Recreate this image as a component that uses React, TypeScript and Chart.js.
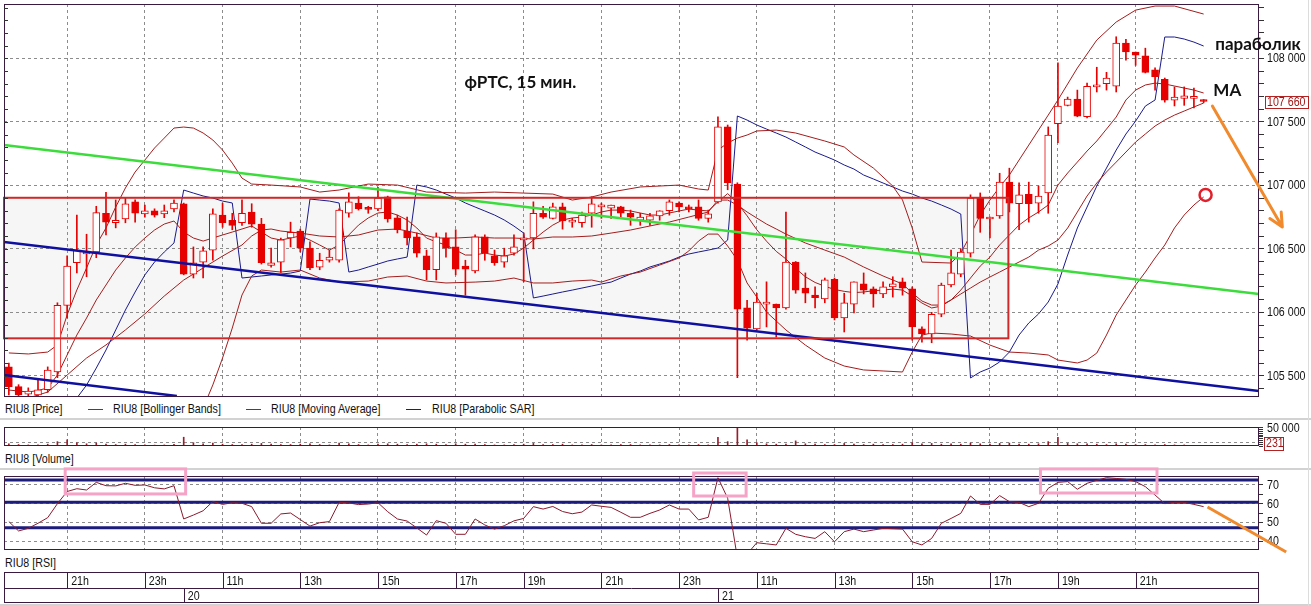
import React, { useEffect, useRef } from 'react';
import { Chart, registerables } from 'chart.js';

Chart.register(...registerables);

// ---------------- DATA ----------------
// 15-minute bars, index 0 = 19 June 19:30 ... index 123 = 21 June 22:45
const OPEN = [105570,105415,105355,105350,105390,105530,106055,106390,106460,106475,
106780,106705,106735,106870,106775,106800,106775,106815,106855,106300,
106395,106490,106765,106725,106705,106790,106695,106370,106395,106585,
106640,106505,106355,106410,106410,106780,106860,106820,106815,106910,
106745,106640,106595,106445,106335,106585,106515,106365,106325,106595,
106445,106395,106465,106570,106585,106780,106740,106830,106710,106705,
106780,106830,106820,106830,106780,106725,106725,106760,106800,106860,
106820,106830,106740,106870,107460,107010,106035,105870,106065,106065,
106035,106395,106190,106135,106105,106260,105955,106065,106225,106185,
106145,106200,106240,106185,105870,105830,105985,106215,106300,106465,
106900,106735,106760,107025,106855,106930,106860,106940,107485,107630,
107680,107540,107775,107800,107780,108120,108050,108020,107910,107835,
107670,107685,107685,107670];
const HIGH = [105600,105430,105405,105475,105570,106075,106445,106765,106615,106835,
106945,106885,106900,106885,106845,106815,106845,106885,106860,106515,
106515,106815,106860,106780,106885,106855,106740,106505,106585,106710,
106655,106555,106465,106490,106815,106940,106910,106835,106985,106915,
106765,106750,106625,106490,106625,106625,106650,106410,106610,106610,
106490,106505,106610,106625,106870,106835,106860,106860,106740,106790,
106910,106860,106845,106835,106805,106780,106780,106800,106885,106870,
106845,106885,106805,107540,107475,107020,106095,106150,106240,106065,
106790,106400,106310,106200,106270,106270,106150,106240,106310,106200,
106240,106280,106270,106200,105885,106000,106230,106490,106500,106925,
106940,106750,107095,107135,107020,107025,106995,107460,107965,107695,
107750,107805,107930,107890,108170,108150,108050,108080,107925,107845,
107775,107775,107765,107675];
const LOW = [105350,105340,105340,105340,105370,105485,105955,106310,106280,106430,
106610,106665,106705,106710,106750,106750,106745,106790,106295,106270,
106270,106410,106670,106650,106685,106670,106380,106355,106315,106515,
106475,106335,106335,106395,106395,106750,106805,106780,106800,106710,
106625,106530,106435,106255,106255,106435,106295,106135,106310,106410,
106370,106355,106450,106240,106500,106740,106735,106655,106670,106670,
106670,106740,106740,106750,106685,106685,106685,106725,106765,106790,
106790,106725,106710,106860,106965,105485,105780,105860,105885,105805,
106025,106150,106075,106035,106075,105940,105845,105995,106145,106040,
106115,106120,106135,105780,105765,105760,105965,106200,106280,106435,
106630,106585,106740,106790,106650,106710,106780,106780,107335,107625,
107540,107530,107735,107750,107735,107985,107945,107885,107750,107655,
107625,107630,107610,107650];
const CLOSE = [105415,105350,105380,105390,105545,106055,106365,106490,106475,106785,
106710,106725,106855,106780,106800,106765,106800,106860,106300,106390,
106485,106775,106705,106685,106780,106695,106390,106390,106570,106630,
106505,106350,106410,106435,106805,106870,106815,106810,106900,106735,
106650,106585,106465,106335,106595,106505,106340,106340,106595,106465,
106390,106445,106515,106585,106780,106750,106830,106720,106720,106765,
106855,106835,106845,106780,106750,106750,106760,106800,106870,106830,
106815,106740,106775,107460,107020,106025,105875,106080,106075,106035,
106395,106175,106150,106115,106255,105955,106075,106240,106175,106145,
106200,106225,106190,105885,105830,105985,106215,106310,106475,106900,
106740,106745,107025,106860,106925,106855,106915,107395,107625,107680,
107545,107780,107780,107845,108120,108050,108025,107890,107855,107670,
107695,107705,107690,107660];
const VOLUME = [6000,4000,3000,3500,5000,12000,17000,9000,6000,8000,
5000,4000,5000,4000,3000,2500,3000,4500,24000,9000,
6000,8000,5000,4000,4000,5000,7000,5000,4000,4000,
5000,6000,4000,3000,8000,6000,4000,3000,5000,6000,
5000,4000,5000,6000,5000,4000,6000,5000,5000,4000,
3000,3000,4000,5000,7000,4000,4000,5000,3000,3000,
4000,3000,3000,4000,4000,3000,3000,3000,4000,3000,
3000,4000,3000,24000,12000,50000,17000,9000,6000,5000,
5000,14000,6000,5000,4000,4000,7000,5000,4000,5000,
4000,4000,5000,9000,6000,7000,5000,6000,5000,8000,
6000,5000,7000,8000,5000,5000,6000,12000,24000,7000,
6000,6000,5000,4000,6000,5000,4000,4000,3000,4000,
3000,3000,2000,231];
const RSI = [50.4,45.4,46.8,49.5,52.5,60,66.5,68,67.3,71.4,
69.6,69.5,70.9,69.8,70,68.5,67.9,69.6,51.8,53.9,
56.2,61.2,59.6,60.5,60.2,58.4,49.5,49.5,54.5,55,
51.5,48,49.8,50.4,60.7,60.4,59.5,59.8,60.5,55.7,
51.8,50.7,47,43.2,50.9,49.5,43.6,43.6,51.8,48.6,
46.4,48.2,50.8,52.1,58.4,57.1,58.5,55.8,54.6,55.5,
59.3,58.6,58,55.4,52.7,52.7,54.8,56.6,59.3,57.1,
57.1,51.3,52.7,73.9,62.9,31,33,39.1,38.5,37.9,
46.8,43.6,42.3,41.4,45,39.6,45,46.4,45,45.9,
46.8,46.6,46.4,39.6,37.9,41.4,49.5,52.1,54.8,64.1,
59.6,59.6,64.3,61.1,60.7,58.4,60.2,68.2,71.4,71.8,
67.7,70.9,72.5,73.9,73.5,73,71.8,69.1,64.6,60,
60.7,60.7,59.6,58.4];
const MA = [105388,105380,105372,105385,105404,105506,105664,105821,105955,106097,
106215,106333,106428,106514,106585,106648,106695,106719,106632,106585,
106561,106585,106609,106632,106656,106680,106632,106585,106569,106585,
106601,106569,106530,106490,106530,106609,106687,106743,106782,106790,
106766,106727,106664,106585,106554,106530,106490,106451,106451,106467,
106451,106443,106459,106506,106569,106632,106687,106727,106743,106750,
106766,106790,106805,106805,106798,106782,106766,106766,106782,106798,
106813,106805,106798,106870,106935,106860,106760,106650,106560,106480,
106420,106345,106280,106235,106205,106180,106165,106155,106160,106170,
106175,106183,106175,106128,106073,106034,106049,106097,106175,106270,
106364,106435,106530,106609,106687,106743,106790,106845,107002,107097,
107183,107270,107349,107443,107538,107672,107750,107790,107805,107798,
107782,107766,107750,107727];
const SAR = [null,null,null,null,null,null,105152,105325,105427,105561,
105703,105861,106018,106160,106294,106396,106475,106546,106963,106939,
106916,106900,106876,106861,106270,106278,106286,106294,106301,106309,
106325,106892,106884,106876,106861,106317,106333,106357,106380,106404,
106420,106435,107002,106987,106963,106931,106900,106861,106829,106798,
106766,106727,106679,106624,106113,106128,106144,106160,106175,106191,
106207,106223,106238,106270,106301,106325,106357,106380,106404,106435,
106459,106475,106490,106506,106569,107546,107514,107475,107443,107412,
107380,107341,107302,107262,107231,107199,107160,107128,107081,107050,
107018,106987,106955,106931,106900,106876,106845,106813,106774,105483,
105530,105561,105609,105687,105821,105916,105987,106081,106223,106451,
106664,106829,106994,107136,107278,107404,107506,107624,107672,108168,
108168,108152,108128,108097];

const BB_UPPER_IDX = [0,2,4,5,6,7,8,9,10,11,12,13,14,15,16,17,18,19,20,21,22,23,24,25,27,30,32,34,37,40,43,47,50,53,56,58,60,62,65,69,71,72,73,74,75,76,77,79,81,84,86,87,89,91,92,93,94,97,98,99,100,101,102,103,105,107,108,110,112,114,116,118,120,123];
const BB_UPPER = [105680,105672,105687,105743,105979,106176,106349,106530,106664,106829,106979,107105,107199,107294,107372,107451,107459,107451,107412,107357,107278,107175,107057,107010,107002,106987,106947,106963,107010,107002,106947,106939,106947,106939,106931,106884,106908,106947,106987,107002,106971,106963,107278,107333,107372,107396,107428,107435,107412,107349,107302,107239,107136,106994,106884,106664,106396,106388,106467,106609,106766,106884,106987,107081,107317,107553,107672,107924,108144,108286,108380,108412,108412,108349];
const BB_MID_IDX = [0,2,4,6,8,10,12,14,16,18,20,22,24,25,26,27,28,30,32,34,36,38,40,42,44,46,48,50,52,54,56,58,60,62,64,66,68,70,72,73,74,75,76,77,78,79,80,82,84,86,88,90,92,93,94,95,96,97,98,99,100,101,102,103,104,105,106,107,108,109,110,111,112,113,114,115,116,117,118,119,120,121,122,123];
const BB_MID = [105325,105325,105372,105506,105640,105743,105861,105987,106128,106254,106349,106443,106530,106601,106648,106656,106640,106624,106601,106593,106609,106648,106656,106624,106585,106585,106593,106585,106585,106577,106593,106593,106601,106624,106648,106680,106711,106750,106790,106884,106884,106845,106790,106742,106695,106656,106616,106546,106490,106435,106357,106286,106223,106152,106089,106057,106057,106097,106144,106191,106238,106278,106317,106357,106396,106435,106490,106522,106569,106664,106790,106916,107018,107105,107183,107262,107341,107404,107467,107514,107553,107585,107617,107648];
const BB_LOWER_IDX = [19,20,21,22,23,24,25,26,28,30,32,34,37,39,41,43,45,48,50,52,54,56,58,60,61,63,65,67,69,70,71,72,73,74,75,76,77,78,80,82,84,86,88,90,92,93,94,95,97,99,101,103,105,107,108,110,111,112,113,114,115,116,117,118,119,120,121,122,123];
const BB_LOWER = [105073,105246,105428,105640,105876,106136,106286,106333,106317,106333,106270,106238,106246,106278,106286,106246,106231,106238,106246,106270,106231,106231,106246,106254,106238,106286,106317,106372,106428,106483,106561,106616,106616,106522,106412,106231,106120,106002,105861,105742,105640,105577,105546,105538,105530,105687,105821,105837,105829,105813,105742,105687,105679,105664,105624,105601,105624,105679,105821,105979,106097,106215,106317,106428,106530,106664,106766,106845,106908];

const HOUR_TICK_IDX = [6, 14, 22, 30, 38, 46, 53, 61, 69, 77, 85, 93, 101, 108, 116];
const HOUR_TICK_LABELS = ['21h', '23h', '11h', '13h', '15h', '17h', '19h', '21h', '23h', '11h', '13h', '15h', '17h', '19h', '21h'];
const DAY_TICK_IDX = [18, 73];
const DAY_LABELS = ['20', '21'];

const RSI_LEVELS = [72.6, 60.8, 47.1];
const RSI_TICKS = [40, 45, 50, 55, 60, 65, 70];

// hand-drawn objects (data coordinates)
const GREEN_LINE_X = [-0.5, 128.7];
const GREEN_LINE_Y = [107317, 106144];
const NAVY_LINE_X = [-0.5, 128.7];
const NAVY_LINE_Y = [106554, 105380];
const NAVY_SHORT_X = [-0.5, 17.3];
const NAVY_SHORT_Y = [105506, 105341];
const RANGE_BOX_X = [-0.5, 102.9];
const RANGE_BOX_Y = [105795, 106902];
const NOTE_TEXT = ['фРТС, 15 мин.', 'параболик', 'MA'];
const NOTE_X = [46.9, 124.2, 124.0];
const NOTE_Y = [107813, 108105, 107743];
const CIRCLE_AT = [123.2, 106924];
const ARROW_FROM = [123.9, 107624];
const ARROW_TO = [131.1, 106672];
const PINK_X0 = [5.8, 70.5, 106.2];
const PINK_X1 = [18.2, 75.9, 118.2];
const PINK_TOP = [78.6, 76.4, 78.6];
const PINK_BOTTOM = [65.2, 64.1, 65.7];
const RSI_ARROW_FROM = [123.4, 58.2];
const RSI_ARROW_TO = [131.5, 34.1];

// ---------------- STYLE ----------------
const X_MIN = -0.5;
const X_MAX = 128.7;
const PRICE_MIN = 105333;
const PRICE_MAX = 108428;
const SANS = "'Liberation Sans', Arial, sans-serif";
const NARROW_SCALE = 0.82;
const BOLD = "Lato, 'Open Sans', sans-serif";
const RED = '#e60000';
const DARK_RED = '#a31d1d';
const NAVY = '#1a1a8c';
const FRAME = '#3b1a3f';
const GRID = '#8c8c8c';
const CLEAR = 'rgba(0,0,0,0)';

function fmtThousands(v: number) {
  const s = String(Math.round(v));
  if (s.length <= 3) return s;
  return s.slice(0, s.length - 3) + ' ' + s.slice(-3);
}

function range(a: number, b: number, step: number) {
  const out: number[] = [];
  for (let v = a; v <= b + 1e-9; v += step) out.push(v);
  return out;
}

function narrowText(ctx: CanvasRenderingContext2D, text: string, x: number, y: number, size: number, color: string) {
  ctx.save();
  ctx.font = `${size}px ${SANS}`;
  ctx.fillStyle = color;
  ctx.textBaseline = 'middle';
  ctx.textAlign = 'left';
  ctx.translate(x, y);
  ctx.scale(NARROW_SCALE, 1);
  ctx.fillText(text, 0, 0);
  ctx.restore();
}

function xAxis() {
  return {
    type: 'linear',
    min: X_MIN,
    max: X_MAX,
    offset: false,
    afterBuildTicks: (s: any) => {
      s.ticks = HOUR_TICK_IDX.map((v) => ({ value: v }));
    },
    afterFit: (s: any) => {
      s.height = 0;
      s.paddingLeft = 0;
      s.paddingRight = 0;
    },
    ticks: { display: false },
    grid: { color: GRID, drawTicks: false, offset: false, lineWidth: 1 },
    border: { display: false, dash: [3, 3] },
  };
}

function rightAxis(min: number, max: number, ticks: number[], gridAt: (v: number) => boolean, tickLen: number) {
  return {
    type: 'linear',
    position: 'right',
    min,
    max,
    afterBuildTicks: (s: any) => {
      s.ticks = ticks.map((v) => ({ value: v }));
    },
    afterFit: (s: any) => {
      s.width = 52;
      s.paddingTop = 0;
      s.paddingBottom = 0;
    },
    ticks: { display: false, autoSkip: false },
    grid: {
      color: (c: any) => (c.tick && gridAt(c.tick.value) ? GRID : CLEAR),
      tickColor: '#333',
      tickLength: tickLen,
      lineWidth: 1,
    },
    border: { display: false, dash: [3, 3] },
  };
}

function axisLabels(ctx: CanvasRenderingContext2D, a: any, y: any, label: (v: number) => string) {
  y.ticks.forEach((t: any) => {
    const s = label(t.value);
    if (s) narrowText(ctx, s, a.right + 8, y.getPixelForValue(t.value) + 0.5, 13, '#111');
  });
}

function frame(ctx: CanvasRenderingContext2D, a: any) {
  ctx.save();
  ctx.strokeStyle = FRAME;
  ctx.lineWidth = 1;
  ctx.strokeRect(Math.round(a.left) + 0.5, Math.round(a.top) + 0.5, Math.round(a.right - a.left) - 1, Math.round(a.bottom - a.top) - 1);
  ctx.restore();
}

function whiteArea(ctx: CanvasRenderingContext2D, a: any) {
  ctx.save();
  ctx.fillStyle = '#ffffff';
  ctx.fillRect(a.left, a.top, a.right - a.left, a.bottom - a.top);
  ctx.restore();
}

function lineDs(xs: number[], ys: (number | null)[], color: string, width: number, order: number) {
  return {
    type: 'line',
    data: xs.map((x, k) => ({ x, y: ys[k] })),
    borderColor: color,
    borderWidth: width,
    pointRadius: 0,
    tension: 0,
    fill: false,
    spanGaps: false,
    order,
  };
}

const idx = (arr: any[]) => arr.map((_, i) => i);

// ---------------- PRICE PANEL ----------------
const pricePlugin = {
  id: 'pricePanel',
  beforeDraw(chart: any) {
    const { ctx, chartArea: a, scales } = chart;
    const x = scales.x;
    const y = scales.y;
    whiteArea(ctx, a);
    const bx0 = x.getPixelForValue(RANGE_BOX_X[0]);
    const bx1 = x.getPixelForValue(RANGE_BOX_X[1]);
    const by0 = y.getPixelForValue(RANGE_BOX_Y[1]);
    const by1 = y.getPixelForValue(RANGE_BOX_Y[0]);
    ctx.save();
    ctx.fillStyle = '#f6f6f6';
    ctx.fillRect(bx0, by0, bx1 - bx0, by1 - by0);
    ctx.restore();
  },
  afterDatasetsDraw(chart: any) {
    const { ctx, scales } = chart;
    const x = scales.x;
    const y = scales.y;
    const bx0 = x.getPixelForValue(RANGE_BOX_X[0]);
    const bx1 = x.getPixelForValue(RANGE_BOX_X[1]);
    const by0 = y.getPixelForValue(RANGE_BOX_Y[1]);
    const by1 = y.getPixelForValue(RANGE_BOX_Y[0]);
    ctx.save();
    ctx.strokeStyle = '#d02828';
    ctx.lineWidth = 2;
    ctx.strokeRect(bx0, by0, bx1 - bx0, by1 - by0);
    ctx.restore();
  },
  afterDraw(chart: any) {
    const { ctx, chartArea: a, scales } = chart;
    const x = scales.x;
    const y = scales.y;
    frame(ctx, a);
    axisLabels(ctx, a, y, (v) => (v % 500 === 0 ? fmtThousands(v) : ''));
    ctx.save();
    // inner minor ticks on the left border
    ctx.strokeStyle = '#333';
    ctx.lineWidth = 1;
    y.ticks.forEach((t: any) => {
      const py = Math.round(y.getPixelForValue(t.value)) + 0.5;
      ctx.beginPath();
      ctx.moveTo(a.left, py);
      ctx.lineTo(a.left + 4, py);
      ctx.stroke();
    });
    // last price label
    const last = CLOSE[CLOSE.length - 1];
    const py = y.getPixelForValue(last);
    ctx.strokeStyle = '#b22222';
    ctx.strokeRect(a.right + 6.5, Math.round(py - 6) + 0.5, 43, 12);
    ctx.restore();
    narrowText(ctx, fmtThousands(last), a.right + 8, py + 0.5, 13, '#a01818');
    ctx.save();
    // notes
    ctx.fillStyle = '#111';
    ctx.textBaseline = 'middle';
    ctx.textAlign = 'left';
    NOTE_TEXT.forEach((t, k) => {
      ctx.font = `bold 17px ${BOLD}`;
      ctx.fillText(t, x.getPixelForValue(NOTE_X[k]), y.getPixelForValue(NOTE_Y[k]));
    });
    // circle
    ctx.strokeStyle = '#e0202a';
    ctx.lineWidth = 2.5;
    ctx.beginPath();
    ctx.arc(x.getPixelForValue(CIRCLE_AT[0]), y.getPixelForValue(CIRCLE_AT[1]), 6, 0, Math.PI * 2);
    ctx.stroke();
    // arrow
    const x0 = x.getPixelForValue(ARROW_FROM[0]);
    const y0 = y.getPixelForValue(ARROW_FROM[1]);
    const x1 = x.getPixelForValue(ARROW_TO[0]);
    const y1 = y.getPixelForValue(ARROW_TO[1]);
    ctx.strokeStyle = '#f08a2c';
    ctx.lineWidth = 3;
    ctx.lineCap = 'round';
    ctx.beginPath();
    ctx.moveTo(x0, y0);
    ctx.lineTo(x1, y1);
    const ang = Math.atan2(y0 - y1, x0 - x1);
    [-0.45, 0.45].forEach((d) => {
      ctx.moveTo(x1, y1);
      ctx.lineTo(x1 + 15 * Math.cos(ang + d), y1 + 15 * Math.sin(ang + d));
    });
    ctx.stroke();
    ctx.restore();
  },
};

function priceConfig() {
  const bodyColors = CLOSE.map((c, i) => (c >= OPEN[i] ? '#ffffff' : RED));
  return {
    type: 'bar',
    data: {
      datasets: [
        lineDs(GREEN_LINE_X, GREEN_LINE_Y, '#3cdc3c', 2.5, 0),
        lineDs(NAVY_LINE_X, NAVY_LINE_Y, '#1010a0', 2.5, 0),
        lineDs(NAVY_SHORT_X, NAVY_SHORT_Y, '#1010a0', 2.5, 0),
        {
          type: 'bar',
          data: OPEN.map((o, i) => ({ x: i, y: [o, CLOSE[i]] })),
          backgroundColor: bodyColors,
          borderColor: RED,
          borderWidth: 1,
          borderSkipped: false,
          barThickness: 7,
          minBarLength: 2,
          grouped: false,
          order: 1,
        },
        {
          type: 'bar',
          data: LOW.map((l, i) => ({ x: i, y: [l, HIGH[i]] })),
          backgroundColor: RED,
          borderWidth: 0,
          barThickness: 1,
          grouped: false,
          order: 2,
        },
        lineDs(BB_UPPER_IDX, BB_UPPER, DARK_RED, 1, 3),
        lineDs(BB_MID_IDX, BB_MID, DARK_RED, 1, 3),
        lineDs(BB_LOWER_IDX, BB_LOWER, DARK_RED, 1, 3),
        lineDs(idx(MA), MA, DARK_RED, 1, 3),
        lineDs(idx(SAR), SAR, NAVY, 1, 3),
      ],
    },
    options: {
      responsive: false,
      animation: false,
      events: [],
      layout: { padding: { left: 4, top: 4, right: 0, bottom: 5 } },
      plugins: { legend: { display: false }, tooltip: { enabled: false } },
      scales: {
        x: xAxis(),
        y: rightAxis(PRICE_MIN, PRICE_MAX, range(105400, 108400, 100), (v) => v % 500 === 0, 5),
      },
    },
    plugins: [pricePlugin],
  };
}

// ---------------- VOLUME PANEL ----------------
const volumePlugin = {
  id: 'volumePanel',
  beforeDraw(chart: any) {
    whiteArea(chart.ctx, chart.chartArea);
  },
  afterDraw(chart: any) {
    const { ctx, chartArea: a, scales } = chart;
    frame(ctx, a);
    axisLabels(ctx, a, scales.y, (v) => (v === 50000 ? fmtThousands(v) : ''));
    const last = VOLUME[VOLUME.length - 1];
    const py = Math.min(scales.y.getPixelForValue(last) - 2.5, a.bottom - 2.5);
    ctx.save();
    ctx.strokeStyle = '#b22222';
    ctx.lineWidth = 1;
    ctx.strokeRect(a.right + 5.5, Math.round(py - 6.5) + 0.5, 19, 13);
    ctx.restore();
    narrowText(ctx, String(last), a.right + 7, py + 0.5, 13, '#a01818');
  },
};

function volumeConfig() {
  return {
    type: 'bar',
    data: {
      datasets: [
        {
          data: VOLUME.map((v, i) => ({ x: i, y: v })),
          backgroundColor: '#9c1c2c',
          borderWidth: 0,
          barThickness: 1,
          grouped: false,
        },
      ],
    },
    options: {
      responsive: false,
      animation: false,
      events: [],
      layout: { padding: { left: 4, top: 8, right: 0, bottom: 6 } },
      plugins: { legend: { display: false }, tooltip: { enabled: false } },
      scales: {
        x: xAxis(),
        y: rightAxis(0, 52000, range(0, 50000, 5000), (v) => v === 10000, 4),
      },
    },
    plugins: [volumePlugin],
  };
}

// ---------------- RSI PANEL ----------------
const rsiPlugin = {
  id: 'rsiPanel',
  beforeDraw(chart: any) {
    whiteArea(chart.ctx, chart.chartArea);
  },
  afterDraw(chart: any) {
    const { ctx, chartArea: a, scales } = chart;
    const x = scales.x;
    const y = scales.y;
    frame(ctx, a);
    axisLabels(ctx, a, y, (v) => (v % 10 === 0 ? String(v) : ''));
    ctx.save();
    // pink highlight boxes
    ctx.strokeStyle = '#f5a3c7';
    ctx.lineWidth = 3;
    PINK_X0.forEach((_, k) => {
      const px0 = x.getPixelForValue(PINK_X0[k]);
      const px1 = x.getPixelForValue(PINK_X1[k]);
      const py0 = y.getPixelForValue(PINK_TOP[k]);
      const py1 = y.getPixelForValue(PINK_BOTTOM[k]);
      ctx.strokeRect(px0, py0, px1 - px0, py1 - py0);
    });
    // orange forecast line
    ctx.strokeStyle = '#f08a2c';
    ctx.lineWidth = 3;
    ctx.beginPath();
    ctx.moveTo(x.getPixelForValue(RSI_ARROW_FROM[0]), y.getPixelForValue(RSI_ARROW_FROM[1]));
    ctx.lineTo(x.getPixelForValue(RSI_ARROW_TO[0]), y.getPixelForValue(RSI_ARROW_TO[1]));
    ctx.stroke();
    // time axis
    const top1 = a.bottom + 22;
    const top2 = a.bottom + 38;
    const bot = a.bottom + 52;
    const L = Math.round(a.left) + 0.5;
    const R = Math.round(a.right) - 0.5;
    ctx.strokeStyle = FRAME;
    ctx.lineWidth = 1;
    ctx.strokeRect(L, top1 + 0.5, R - L, bot - top1);
    ctx.beginPath();
    ctx.moveTo(L, top2 + 0.5);
    ctx.lineTo(R, top2 + 0.5);
    HOUR_TICK_IDX.forEach((v) => {
      const px = Math.round(x.getPixelForValue(v)) + 0.5;
      ctx.moveTo(px, top1);
      ctx.lineTo(px, top2);
    });
    DAY_TICK_IDX.forEach((v) => {
      const px = Math.round(x.getPixelForValue(v)) + 0.5;
      ctx.moveTo(px, top2);
      ctx.lineTo(px, bot);
    });
    ctx.stroke();
    ctx.restore();
    HOUR_TICK_IDX.forEach((v, k) => {
      narrowText(ctx, HOUR_TICK_LABELS[k], x.getPixelForValue(v) + 4, (top1 + top2) / 2 + 1, 13, '#111');
    });
    DAY_TICK_IDX.forEach((v, k) => {
      narrowText(ctx, DAY_LABELS[k], x.getPixelForValue(v) + 4, (top2 + bot) / 2 + 1, 13, '#111');
    });
  },
};

function rsiConfig() {
  return {
    type: 'line',
    data: {
      datasets: [
        lineDs(idx(RSI), RSI, '#8b1a2e', 1, 0),
        ...RSI_LEVELS.map((l) => lineDs([X_MIN, X_MAX], [l, l], '#1c1c7c', 3, 1)),
      ],
    },
    options: {
      responsive: false,
      animation: false,
      events: [],
      layout: { padding: { left: 4, top: 12, right: 0, bottom: 56 } },
      plugins: { legend: { display: false }, tooltip: { enabled: false } },
      scales: {
        x: xAxis(),
        y: rightAxis(35.2, 74.8, RSI_TICKS, (v) => v % 10 === 0, 4),
      },
    },
    plugins: [rsiPlugin],
  };
}

// ---------------- APP ----------------
const textStyle: React.CSSProperties = {
  position: 'absolute',
  fontFamily: SANS,
  fontSize: 13,
  lineHeight: '14px',
  color: '#111',
  whiteSpace: 'nowrap',
  transform: `scaleX(${NARROW_SCALE})`,
  transformOrigin: 'left center',
};

export default function App() {
  const priceRef = useRef<HTMLCanvasElement | null>(null);
  const volRef = useRef<HTMLCanvasElement | null>(null);
  const rsiRef = useRef<HTMLCanvasElement | null>(null);

  useEffect(() => {
    const charts: Chart[] = [];
    if (priceRef.current) charts.push(new Chart(priceRef.current, priceConfig() as any));
    if (volRef.current) charts.push(new Chart(volRef.current, volumeConfig() as any));
    if (rsiRef.current) charts.push(new Chart(rsiRef.current, rsiConfig() as any));
    return () => charts.forEach((c) => c.destroy());
  }, []);

  const legendLine = (left: number, color: string) => (
    <div style={{ position: 'absolute', left, top: 409, width: 15, height: 1, background: color }} />
  );

  return (
    <div style={{ position: 'absolute', left: 0, top: 0, width: 1311, height: 606, background: '#fff', overflow: 'hidden' }}>
      <div style={{ position: 'absolute', left: 0, top: 418, width: 1311, height: 2, background: '#d2d2d2' }} />
      <div style={{ position: 'absolute', left: 0, top: 468, width: 1311, height: 2, background: '#d2d2d2' }} />
      <div style={{ position: 'absolute', left: 0, top: 604, width: 1311, height: 2, background: '#d2d2d2' }} />
      <div style={{ position: 'absolute', left: 1308, top: 0, width: 1, height: 606, background: '#dcdcdc' }} />

      <div style={{ ...textStyle, left: 5, top: 402 }}>RIU8 [Price]</div>
      {legendLine(88, DARK_RED)}
      <div style={{ ...textStyle, left: 113, top: 402 }}>RIU8 [Bollinger Bands]</div>
      {legendLine(246, DARK_RED)}
      <div style={{ ...textStyle, left: 271, top: 402 }}>RIU8 [Moving Average]</div>
      {legendLine(406, NAVY)}
      <div style={{ ...textStyle, left: 432, top: 402 }}>RIU8 [Parabolic SAR]</div>
      <div style={{ ...textStyle, left: 5, top: 452 }}>RIU8 [Volume]</div>
      <div style={{ ...textStyle, left: 5, top: 556 }}>RIU8 [RSI]</div>

      <canvas ref={priceRef} width={1311} height={402} style={{ position: 'absolute', left: 0, top: 0, display: 'block' }} />
      <canvas ref={volRef} width={1311} height={33} style={{ position: 'absolute', left: 0, top: 419, display: 'block' }} />
      <canvas ref={rsiRef} width={1311} height={142} style={{ position: 'absolute', left: 0, top: 464, display: 'block' }} />
    </div>
  );
}
